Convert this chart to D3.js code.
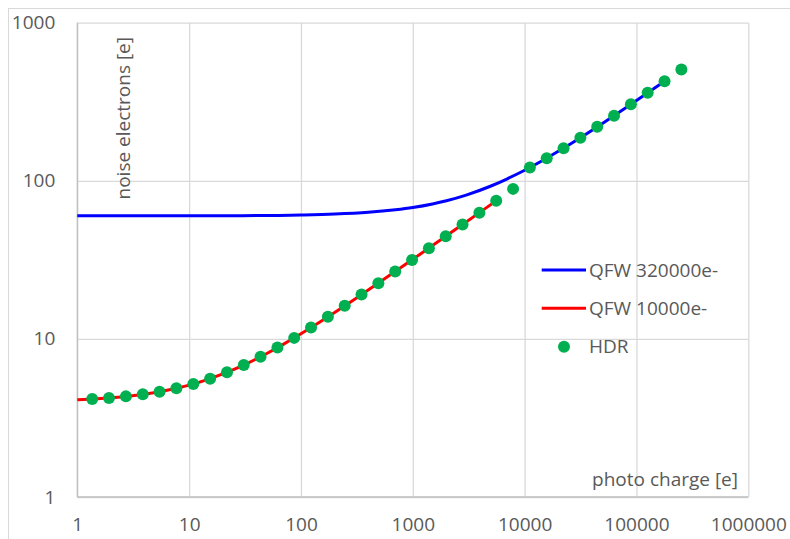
<!DOCTYPE html>
<html>
<head>
<meta charset="utf-8">
<script src="https://cdn.jsdelivr.net/npm/d3@7"></script>
<style>
  body { margin: 0; background: #fff; }
  text { font-family: "Open Sans", sans-serif; fill: #595959; }
</style>
</head>
<body>
<div id="canvas"></div>
<script>
var w = 790;
var h = 539;

// HDR points
var hdrX = [1.36, 1.92, 2.72, 3.85, 5.44, 7.69, 10.9, 15.4, 21.8, 30.8, 43.5, 61.6,
    87.0, 123, 174, 246, 348, 492, 696, 985, 1393, 1970, 2785, 3940, 5570, 7880,
    11140, 15760, 22280, 31510, 44560, 63020, 89130, 126000, 178300, 252100];
var hdrY = [4.17, 4.23, 4.33, 4.46, 4.63, 4.87, 5.19, 5.60, 6.15, 6.84, 7.71, 8.81,
    10.15, 11.8, 13.8, 16.2, 19.1, 22.5, 26.7, 31.6, 37.5, 44.6, 52.9, 62.9, 74.7, 88.9,
    121.4, 139.1, 160.9, 187.4, 219.5, 258.1, 304.5, 360, 426.5, 505.7];

// QFW 320000e- curve
var blueX = [1, 3, 10, 30, 100, 200, 400, 700, 1000, 1500, 2000, 3000, 5000, 7000,
    10000, 15000, 20000, 30000, 50000, 70000, 100000, 178300];
var blueY = [60.0, 60.0, 60.1, 60.2, 60.8, 61.6, 63.2, 65.6, 67.8, 71.4, 74.8, 81.2,
    92.7, 103.0, 116.6, 136.4, 153.6, 183.3, 231.5, 271.3, 321.9, 426.5];

// QFW 10000e- curve
var redX = [1, 1.5, 2, 3, 5, 7, 10, 15, 20, 30, 50, 70, 100, 150, 200, 300, 500, 700,
    1000, 1500, 2000, 3000, 4000, 5570];
var redY = [4.12, 4.18, 4.24, 4.36, 4.58, 4.80, 5.10, 5.57, 6.00, 6.78, 8.12, 9.27,
    10.77, 12.88, 14.70, 17.78, 22.72, 26.76, 31.87, 38.94, 44.90, 54.92, 63.37, 74.74];

var xTicks = [1, 10, 100, 1000, 10000, 100000, 1000000];
var yTicks = [1, 10, 100, 1000];

var plotL = 77.3, plotR = 748.3, plotT = 22.7, plotB = 497;
var fontSize = "19px";

var svg = d3.select("#canvas")
    .append("svg")
    .attr("width", w)
    .attr("height", h);

// outer chart frame
svg.append("rect")
    .attr("x", 8.5)
    .attr("y", 8.5)
    .attr("width", w)
    .attr("height", h)
    .attr("fill", "none")
    .attr("stroke", "#d9d9d9")
    .attr("stroke-width", 1);

var x = d3.scaleLog().domain([1, 1000000]).range([plotL, plotR]);
var y = d3.scaleLog().domain([1, 1000]).range([plotB, plotT]);

var xAxis = svg.append("g")
    .attr("transform", "translate(0," + plotB + ")")
    .call(d3.axisBottom(x)
        .tickValues(xTicks)
        .tickSizeInner(-(plotB - plotT))
        .tickSizeOuter(0)
        .tickPadding(21)
        .tickFormat(d3.format("d")));

var yAxis = svg.append("g")
    .attr("transform", "translate(" + plotL + ",0)")
    .call(d3.axisLeft(y)
        .tickValues(yTicks)
        .tickSizeInner(-(plotR - plotL))
        .tickSizeOuter(0)
        .tickPadding(22)
        .tickFormat(d3.format("d")));

[xAxis, yAxis].forEach(function (a) {
    a.select(".domain").remove();
    a.selectAll(".tick line").attr("stroke", "#d9d9d9").attr("stroke-width", 1.3);
    a.selectAll(".tick text")
        .attr("font-size", fontSize)
        .attr("fill", "#595959")
        .attr("font-family", "Open Sans");
});

// axis lines
svg.append("line")
    .attr("x1", plotL).attr("x2", plotR)
    .attr("y1", plotB).attr("y2", plotB)
    .attr("stroke", "#bfbfbf").attr("stroke-width", 1.3);
svg.append("line")
    .attr("x1", plotL).attr("x2", plotL)
    .attr("y1", plotT).attr("y2", plotB)
    .attr("stroke", "#bfbfbf").attr("stroke-width", 1.3);

var line = d3.line()
    .x(function (d) { return x(d[0]); })
    .y(function (d) { return y(d[1]); })
    .curve(d3.curveMonotoneX);

svg.append("path")
    .datum(d3.zip(blueX, blueY))
    .attr("d", line)
    .attr("fill", "none")
    .attr("stroke", "#0000ff")
    .attr("stroke-width", 3);

svg.append("path")
    .datum(d3.zip(redX, redY))
    .attr("d", line)
    .attr("fill", "none")
    .attr("stroke", "#ff0000")
    .attr("stroke-width", 3);

svg.selectAll("circle.hdr")
    .data(d3.zip(hdrX, hdrY))
    .join("circle")
    .attr("class", "hdr")
    .attr("cx", function (d) { return x(d[0]); })
    .attr("cy", function (d) { return y(d[1]); })
    .attr("r", 6)
    .attr("fill", "#00b050");

// axis titles
svg.append("text")
    .attr("transform", "translate(130,37) rotate(-90)")
    .attr("text-anchor", "end")
    .attr("font-size", fontSize)
    .text("noise electrons [e]");

svg.append("text")
    .attr("x", 738)
    .attr("y", 486)
    .attr("text-anchor", "end")
    .attr("font-size", fontSize)
    .text("photo charge [e]");

// legend
var legend = [
    { name: "QFW 320000e-", color: "#0000ff", type: "line" },
    { name: "QFW 10000e-", color: "#ff0000", type: "line" },
    { name: "HDR", color: "#00b050", type: "dot" }
];
var legY = d3.scaleLinear().domain([0, 2]).range([270, 346.7]);

legend.forEach(function (d, i) {
    if (d.type == "line") {
        svg.append("line")
            .attr("x1", 541.7).attr("x2", 586)
            .attr("y1", legY(i)).attr("y2", legY(i))
            .attr("stroke", d.color).attr("stroke-width", 3);
    } else {
        svg.append("circle")
            .attr("cx", 564).attr("cy", legY(i))
            .attr("r", 6).attr("fill", d.color);
    }
    svg.append("text")
        .attr("x", 589)
        .attr("y", legY(i))
        .attr("dy", "0.35em")
        .attr("font-size", fontSize)
        .text(d.name);
});
</script>
</body>
</html>
